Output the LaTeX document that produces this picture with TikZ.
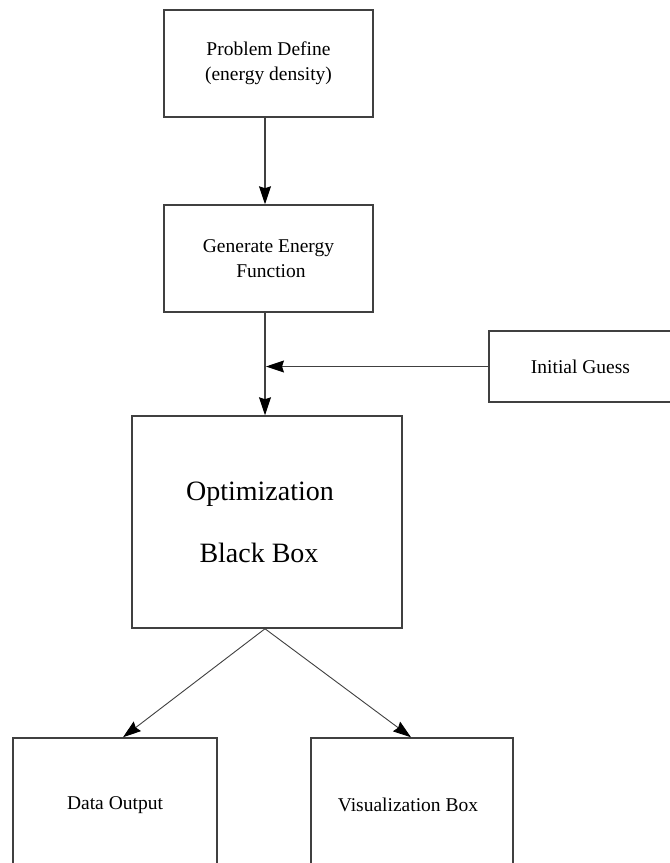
\documentclass[tikz,border=0pt]{standalone}
\usepackage{fontspec}
\setmainfont{Liberation Serif}
\usetikzlibrary{arrows.meta,calc}
\definecolor{edge}{HTML}{404040}
\begin{document}
\begin{tikzpicture}[x=1pt,y=1pt,
  box/.style={draw=edge,line width=1.5pt,fill=white,align=center,inner sep=0pt,
    font=\fontsize{19.5}{25}\selectfont},
  arr/.style={draw=edge,line width=1.2pt,
    -{Stealth[length=18pt,width=12pt,inset=2pt,black]}}]
\useasboundingbox (0,0) rectangle (670,-863);
\clip (0,0) rectangle (670,-863);
\fill[white] (0,0) rectangle (670,-863);
\coordinate (axis) at (265,0);
\node[box,minimum width=209pt,minimum height=107pt] (def) at (268.5,-63.5)
  {Problem Define\\(energy density)};
\node[box,minimum width=209pt,minimum height=107pt] (gen) at (268.5,-258.5)
  {Generate Energy\\\ Function};
\node[box,minimum width=200pt,minimum height=71pt] (guess) at (589,-366.5)
  {\hspace*{-17pt}Initial Guess};
\node[box,minimum width=270pt,minimum height=212pt,
  font=\fontsize{28}{62}\selectfont] (opt) at (267,-522)
  {Optimization\hspace*{14pt}\\Black Box\hspace*{16pt}};
\node[box,minimum width=204pt,minimum height=134pt] (data) at (115,-805)
  {Data Output};
\node[box,minimum width=202pt,minimum height=134pt] (vis) at (412,-805)
  {Visualization Box\hspace*{8pt}};
\draw[arr] (def.south -| axis) -- (gen.north -| axis);
\draw[arr] (gen.south -| axis) -- (opt.north -| axis);
\draw[arr,shorten >=1pt] (guess.west) -- (guess.west -| axis);
\draw[arr,line width=0.9pt] (opt.south -| axis) -- ($(data.north)+(8pt,0)$);
\draw[arr,line width=0.9pt] (opt.south -| axis) -- ($(vis.north)+(-1pt,0)$);
\end{tikzpicture}
\end{document}
